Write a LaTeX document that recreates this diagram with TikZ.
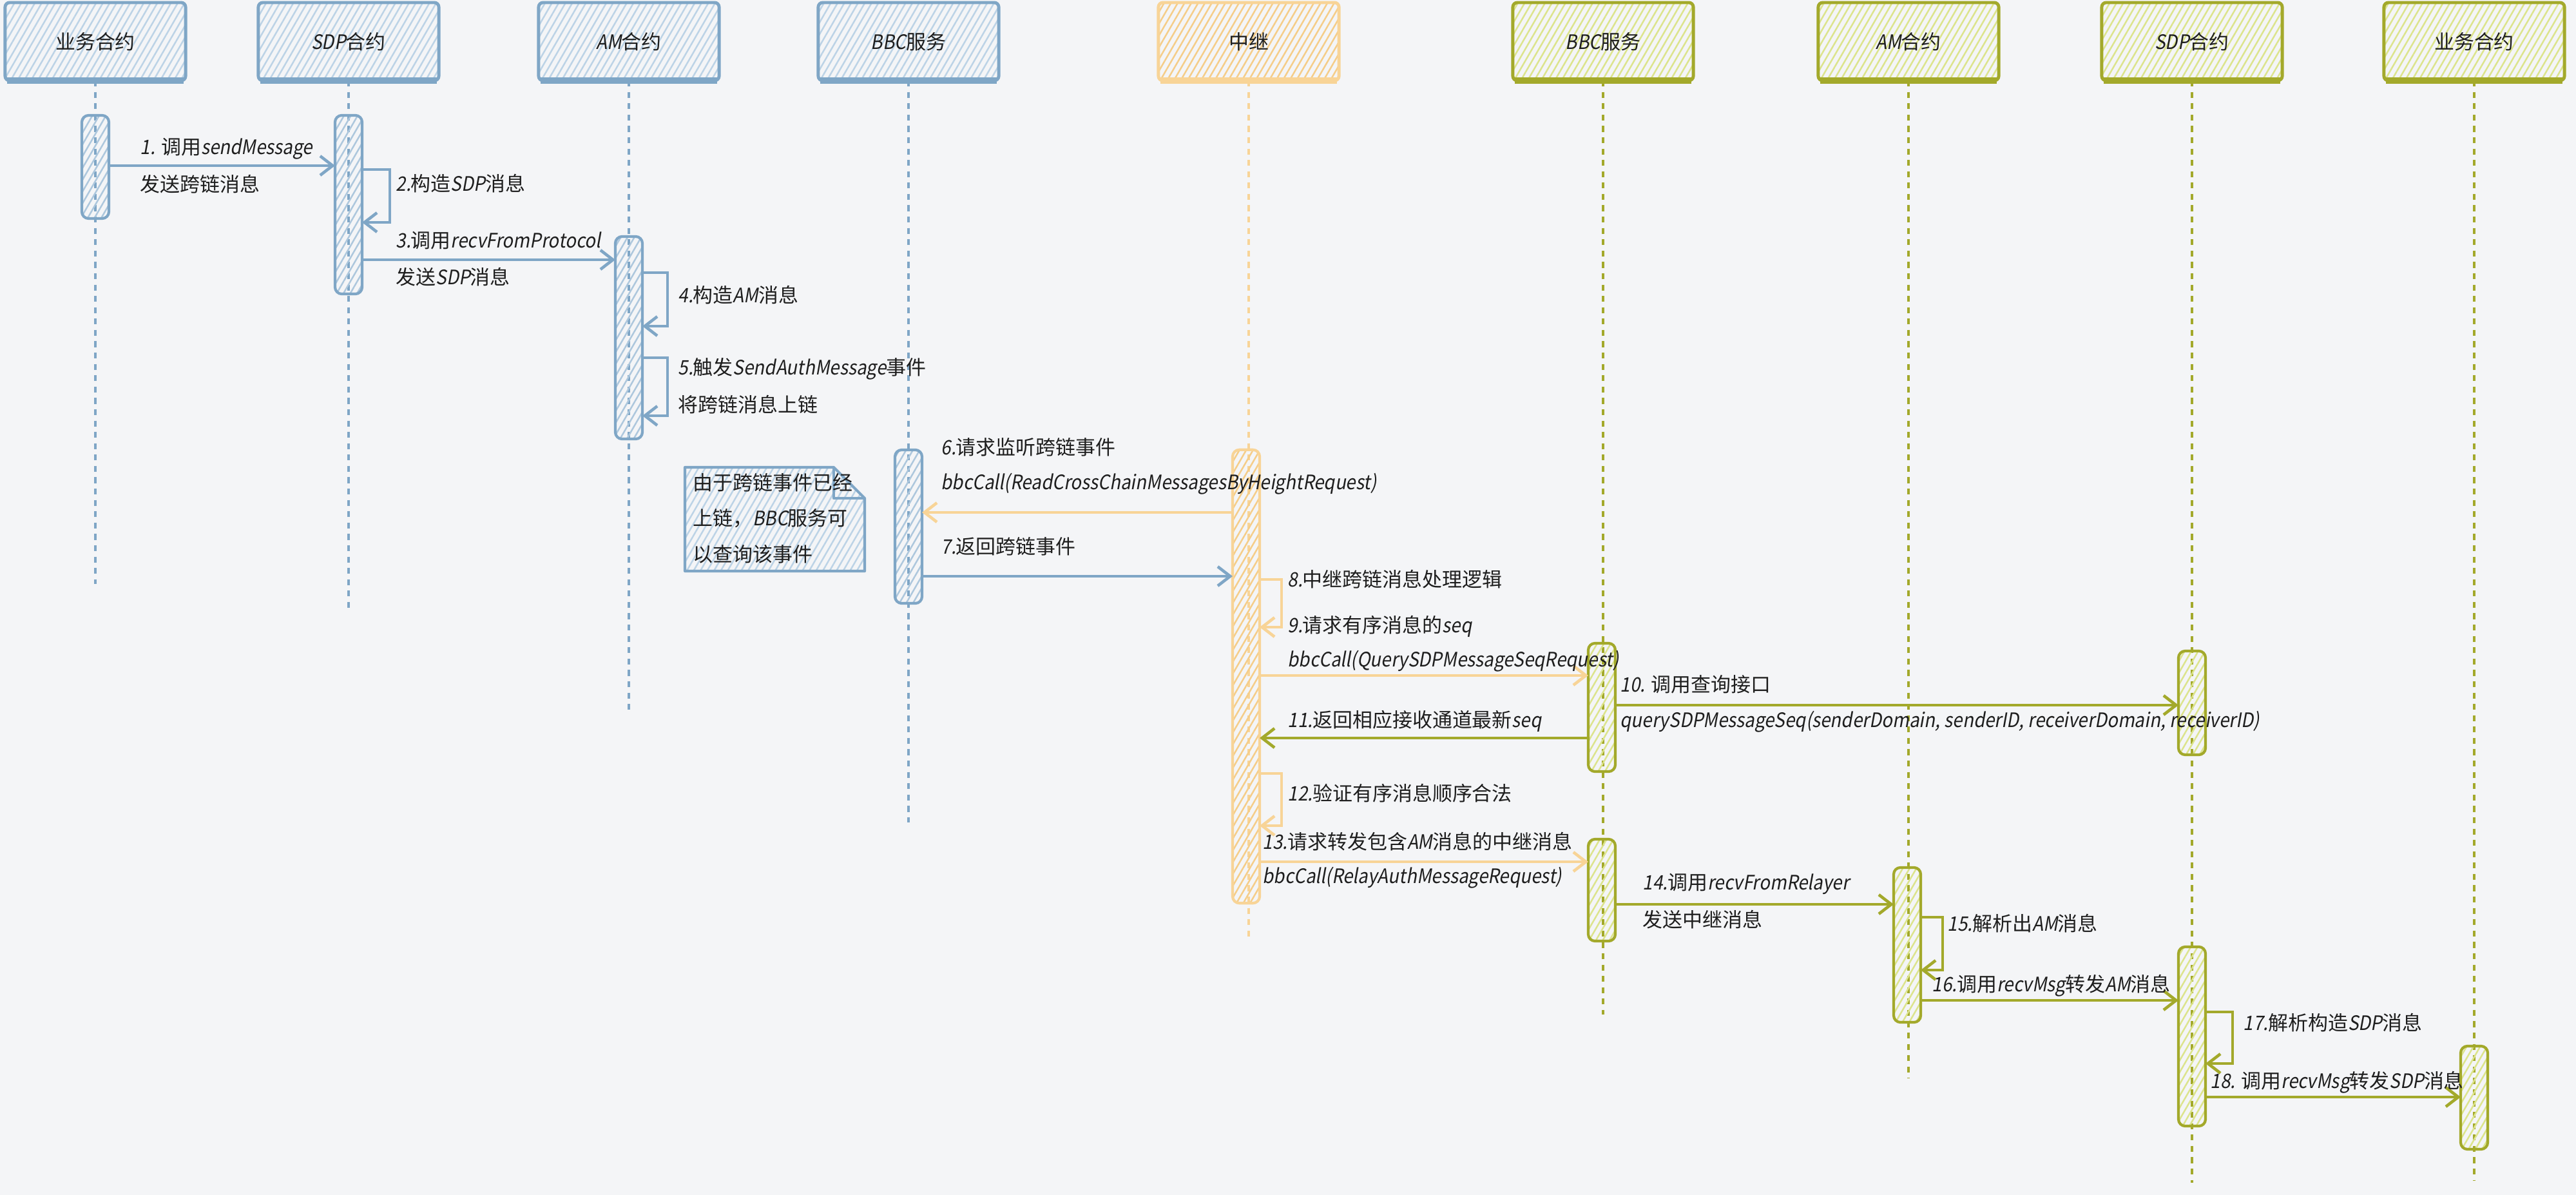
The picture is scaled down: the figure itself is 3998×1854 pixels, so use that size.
\documentclass[tikz,border=0pt]{standalone}
\usepackage{fontspec}
\setmainfont{Noto Sans CJK SC}
\newfontfamily\latfont{Noto Sans CJK SC}[FakeSlant=0.18,FakeStretch=0.9]
\usetikzlibrary{arrows.meta,patterns.meta,calc}
\definecolor{bgc}{HTML}{F4F5F7}
\definecolor{bst}{HTML}{7FA6C6}
\definecolor{bht}{HTML}{BCD3E6}
\definecolor{bah}{HTML}{ADC7DD}
\definecolor{ost}{HTML}{F8D497}
\definecolor{oht}{HTML}{F5CD88}
\definecolor{gst}{HTML}{A3A92B}
\definecolor{ght}{HTML}{DCE48C}
\definecolor{txt}{HTML}{1E1E1E}
\newcommand\latn[1]{{\latfont #1}}
\begin{document}
\begin{tikzpicture}[x=0.01cm,y=-0.01cm,
  font=\fontsize{8.8}{10.5}\selectfont, text=txt,
  hatch/.style={pattern={Lines[angle=60,distance=2.6pt,line width=0.7pt]}},
  hdrbase/.style={minimum width=2.8cm, minimum height=1.21cm, line width=1.4pt, rounded corners=2pt, inner sep=0pt, outer sep=0pt, hatch},
  hdrb/.style={hdrbase, draw=bst, pattern color=bht},
  hdro/.style={hdrbase, draw=ost, pattern color=oht},
  hdrg/.style={hdrbase, draw=gst, pattern color=ght},
  actbase/.style={minimum width=0.42cm, line width=1.2pt, rounded corners=3pt, inner sep=0pt, outer sep=0pt, hatch},
  actb/.style={actbase, minimum height=#1, draw=bst, pattern color=bah},
  acto/.style={actbase, minimum height=#1, draw=ost, pattern color=oht},
  actg/.style={actbase, minimum height=#1, draw=gst, pattern color=ght},
  lifeb/.style={draw=bst, line width=1pt, dash pattern=on 2.6pt off 2.4pt},
  lifeo/.style={draw=ost, line width=1pt, dash pattern=on 2.6pt off 2.4pt},
  lifeg/.style={draw=gst, line width=1pt, dash pattern=on 2.6pt off 2.4pt},
  msgbase/.style={line width=1.3pt, -{Straight Barb[length=5.5pt,width=8.5pt]}},
  mb/.style={msgbase, draw=bst},
  mo/.style={msgbase, draw=ost},
  mg/.style={msgbase, draw=gst},
  lbl/.style={anchor=west, inner sep=0pt}
]
\fill[bgc] (0,0) rectangle (3998,1854);
\useasboundingbox (0,0) rectangle (3998,1854);

% headers
\node[hdrb] (h1) at (148,64.5) {业务合约};
\node[hdrb] (h2) at (541,64.5) {\latn{SDP}合约};
\node[hdrb] (h3) at (976,64.5) {\latn{AM}合约};
\node[hdrb] (h4) at (1410,64.5) {\latn{BBC}服务};
\node[hdro] (h5) at (1938,64.5) {中继};
\node[hdrg] (h6) at (2488,64.5) {\latn{BBC}服务};
\node[hdrg] (h7) at (2962,64.5) {\latn{AM}合约};
\node[hdrg] (h8) at (3402,64.5) {\latn{SDP}合约};
\node[hdrg] (h9) at (3840,64.5) {业务合约};
\foreach \n in {h1,h2,h3,h4}
  \draw[bst,line width=2.6pt] ([xshift=1pt]\n.south west) -- ([xshift=-1pt]\n.south east);
\draw[ost,line width=2.6pt] ([xshift=1pt]h5.south west) -- ([xshift=-1pt]h5.south east);
\foreach \n in {h6,h7,h8,h9}
  \draw[gst,line width=2.6pt] ([xshift=1pt]\n.south west) -- ([xshift=-1pt]\n.south east);

% lifelines
\draw[lifeb] (h1.south) -- ++(0,781);
\draw[lifeb] (h2.south) -- ++(0,822);
\draw[lifeb] (h3.south) -- ++(0,980);
\draw[lifeb] (h4.south) -- ++(0,1151);
\draw[lifeo] (h5.south) -- ++(0,1329);
\draw[lifeg] (h6.south) -- ++(0,1449);
\draw[lifeg] (h7.south) -- ++(0,1548);
\draw[lifeg] (h8.south) -- ++(0,1710);
\draw[lifeg] (h9.south) -- ++(0,1707);

% activations
\node[actb=1.60cm] (a1) at (148,259) {};
\node[actb=2.77cm] (a2) at (541,317.5) {};
\node[actb=3.14cm] (a3) at (976,524) {};
\node[actb=2.38cm] (a4) at (1410,817) {};
\node[acto=7.03cm] (aR) at (1934,1049.5) {};
\node[actg=1.99cm] (aB4a) at (2486,1097.5) {};
\node[actg=1.58cm] (aB4b) at (2486,1381) {};
\node[actg=2.40cm] (aB3) at (2960,1466) {};
\node[actg=1.61cm] (aB2a) at (3402,1090.5) {};
\node[actg=2.78cm] (aB2b) at (3402,1608) {};
\node[actg=1.60cm] (aB1) at (3840,1703) {};

% message levels
\coordinate (m1) at (0,257);
\coordinate (m3) at (0,403);
\coordinate (m6) at (0,795);
\coordinate (m7) at (0,894);
\coordinate (m9) at (0,1048);
\coordinate (m10) at (0,1094);
\coordinate (m11) at (0,1145);
\coordinate (m13) at (0,1337);
\coordinate (m14) at (0,1403);
\coordinate (m16) at (0,1552);
\coordinate (m18) at (0,1702);
\coordinate (s2a) at (0,263);  \coordinate (s2b) at (0,345);
\coordinate (s4a) at (0,423);  \coordinate (s4b) at (0,506);
\coordinate (s5a) at (0,555);  \coordinate (s5b) at (0,645);
\coordinate (s8a) at (0,899);  \coordinate (s8b) at (0,973);
\coordinate (s12a) at (0,1200); \coordinate (s12b) at (0,1281);
\coordinate (s15a) at (0,1423); \coordinate (s15b) at (0,1505);
\coordinate (s17a) at (0,1570); \coordinate (s17b) at (0,1650);

% messages
\draw[mb] (a1.east |- m1) -- (a2.west |- m1);
\draw[mb] (a2.east |- s2a) -- ++(43,0) |- (a2.east |- s2b);
\draw[mb] (a2.east |- m3) -- (a3.west |- m3);
\draw[mb] (a3.east |- s4a) -- ++(39,0) |- (a3.east |- s4b);
\draw[mb] (a3.east |- s5a) -- ++(39,0) |- (a3.east |- s5b);
\draw[mo] (aR.west |- m6) -- (a4.east |- m6);
\draw[mb] (a4.east |- m7) -- (aR.west |- m7);
\draw[mo] (aR.east |- s8a) -- ++(34,0) |- (aR.east |- s8b);
\draw[mo] (aR.east |- m9) -- (aB4a.west |- m9);
\draw[mg] (aB4a.east |- m10) -- (aB2a.west |- m10);
\draw[mg] (aB4a.west |- m11) -- (aR.east |- m11);
\draw[mo] (aR.east |- s12a) -- ++(34,0) |- (aR.east |- s12b);
\draw[mo] (aR.east |- m13) -- (aB4b.west |- m13);
\draw[mg] (aB4b.east |- m14) -- (aB3.west |- m14);
\draw[mg] (aB3.east |- s15a) -- ++(34,0) |- (aB3.east |- s15b);
\draw[mg] (aB3.east |- m16) -- (aB2b.west |- m16);
\draw[mg] (aB2b.east |- s17a) -- ++(42,0) |- (aB2b.east |- s17b);
\draw[mg] (aB2b.east |- m18) -- (aB1.west |- m18);

% labels
\node[lbl] (l1a) at (217,231) {\latn{1.} 调用\latn{sendMessage}};
\node[lbl] (l1b) at (217,286) {发送跨链消息};
\node[lbl] (l2) at (614,285) {\latn{2.}构造\latn{SDP}消息};
\node[lbl] (l3a) at (614,373) {\latn{3.}调用\latn{recvFromProtocol}};
\node[lbl] (l3b) at (614,430) {发送\latn{SDP}消息};
\node[lbl] (l4) at (1052,458) {\latn{4.}构造\latn{AM}消息};
\node[lbl] (l5a) at (1052,572) {\latn{5.}触发\latn{SendAuthMessage}事件};
\node[lbl] (l5b) at (1052,628) {将跨链消息上链};
\node[lbl] (l6a) at (1460,694) {\latn{6.}请求监听跨链事件};
\node[lbl] (l6b) at (1460,751) {\latn{bbcCall(ReadCrossChainMessagesByHeightRequest)}};
\node[lbl] (l7) at (1460,848) {\latn{7.}返回跨链事件};
\node[lbl] (l8) at (1998,899) {\latn{8.}中继跨链消息处理逻辑};
\node[lbl] (l9a) at (1998,972) {\latn{9.}请求有序消息的\latn{seq}};
\node[lbl] (l9b) at (1998,1026) {\latn{bbcCall(QuerySDPMessageSeqRequest)}};
\node[lbl] (l10a) at (2514,1062) {\latn{10.} 调用查询接口};
\node[lbl] (l10b) at (2514,1120) {\latn{querySDPMessageSeq(senderDomain, senderID, receiverDomain, receiverID)}};
\node[lbl] (l11) at (1998,1119) {\latn{11.}返回相应接收通道最新\latn{seq}};
\node[lbl] (l12) at (1998,1231) {\latn{12.}验证有序消息顺序合法};
\node[lbl] (l13a) at (1959,1306) {\latn{13.}请求转发包含\latn{AM}消息的中继消息};
\node[lbl] (l13b) at (1959,1362) {\latn{bbcCall(RelayAuthMessageRequest)}};
\node[lbl] (l14a) at (2549,1371) {\latn{14.}调用\latn{recvFromRelayer}};
\node[lbl] (l14b) at (2549,1427) {发送中继消息};
\node[lbl] (l15) at (3022,1433) {\latn{15.}解析出\latn{AM}消息};
\node[lbl] (l16) at (2998,1529) {\latn{16.}调用\latn{recvMsg}转发\latn{AM}消息};
\node[lbl] (l17) at (3481,1587) {\latn{17.}解析构造\latn{SDP}消息};
\node[lbl] (l18) at (3430,1679) {\latn{18.} 调用\latn{recvMsg}转发\latn{SDP}消息};

% note
\draw[draw=bst, line width=1.2pt, hatch, pattern color=bht, line join=round]
  (1063,725) -- (1294,725) -- (1342,773) -- (1342,886) -- (1063,886) -- cycle;
\draw[draw=bst, line width=1.2pt, line join=round] (1294,725) -- (1294,773) -- (1342,773);
\node[anchor=west, inner sep=0pt, align=left, font=\fontsize{8.8}{15.8}\selectfont] (note) at (1075,804)
  {由于跨链事件已经\\上链，\latn{BBC}服务可\\以查询该事件};
\end{tikzpicture}
\end{document}
